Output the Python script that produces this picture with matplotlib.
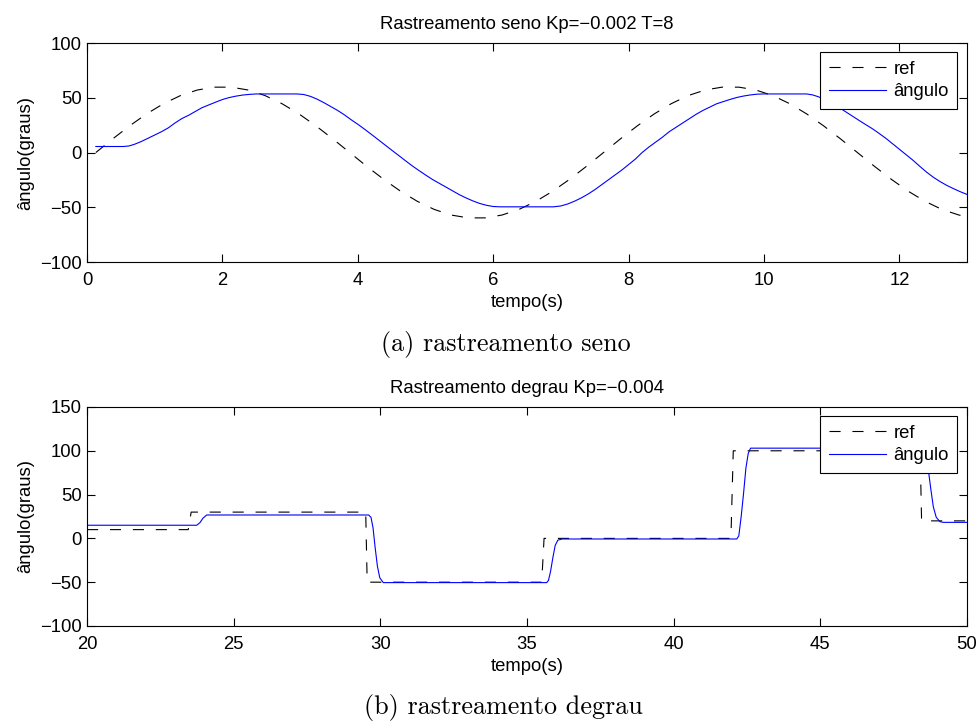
import matplotlib as mpl
mpl.use("Agg")
import matplotlib.pyplot as plt

# ---------------------------------------------------------------------------
# dados
# ---------------------------------------------------------------------------
# (a) rastreamento seno
seno_t_ref = [0.13, 0.38, 0.63, 0.88, 1.13, 1.38, 1.63, 1.88, 2.13, 2.38,
              2.63, 2.88, 3.13, 3.38, 3.63, 3.88, 4.13, 4.38, 4.63, 4.88,
              5.13, 5.38, 5.63, 5.88, 6.13, 6.38, 6.63, 6.88, 7.13, 7.38,
              7.63, 7.88, 8.13, 8.38, 8.63, 8.88, 9.13, 9.38, 9.63, 9.88,
              10.13, 10.38, 10.63, 10.88, 11.13, 11.38, 11.63, 11.88, 12.13,
              12.38, 12.63, 12.88, 13.0]
seno_ref = [0.0, 12.5, 24.4, 35.3, 44.6, 52.0, 57.1, 59.7, 59.7, 57.1,
            52.0, 44.6, 35.3, 24.4, 12.5, 0.0, -12.5, -24.4, -35.3, -44.6,
            -52.0, -57.1, -59.7, -59.7, -57.1, -52.0, -44.6, -35.3, -24.4, -12.5,
            0.0, 12.5, 24.4, 35.3, 44.6, 52.0, 57.1, 59.7, 59.7, 57.1,
            52.0, 44.6, 35.3, 24.4, 12.5, 0.0, -12.5, -24.4, -35.3,
            -44.6, -52.0, -57.1, -58.6]

seno_t_ang = [0.13, 0.54, 0.62, 0.7, 0.8, 0.9, 1.0, 1.1, 1.2, 1.3,
              1.4, 1.5, 1.6, 1.7, 1.8, 1.9, 2.0, 2.1, 2.2, 2.3,
              2.4, 2.5, 3.1, 3.2, 3.3, 3.4, 3.5, 3.6, 3.7, 3.8,
              3.9, 4.0, 4.1, 4.2, 4.3, 4.4, 4.5, 4.6, 4.7, 4.8,
              4.9, 5.0, 5.1, 5.2, 5.3, 5.4, 5.5, 5.6, 5.7, 5.8,
              5.9, 6.0, 6.1, 6.89, 7.0, 7.1, 7.2, 7.3, 7.4, 7.5,
              7.6, 7.7, 7.8, 7.9, 8.0, 8.1, 8.2, 8.3, 8.4, 8.5,
              8.6, 8.7, 8.8, 8.9, 9.0, 9.1, 9.2, 9.3, 9.4, 9.5,
              9.6, 9.7, 9.8, 9.9, 10.0, 10.63, 10.72, 10.8, 10.9, 11.0,
              11.1, 11.2, 11.3, 11.4, 11.5, 11.6, 11.7, 11.8, 11.9, 12.0,
              12.1, 12.2, 12.3, 12.4, 12.5, 12.6, 12.7, 12.8, 12.9, 13.0]
seno_ang = [5.5, 5.5, 6.0, 7.5, 10.0, 13.0, 16.0, 19.0, 22.5, 27.0,
            31.0, 34.0, 37.5, 41.0, 43.5, 46.0, 48.4, 50.2, 51.5, 52.5,
            53.1, 53.5, 53.5, 53.0, 51.3, 48.7, 45.5, 42.0, 38.5, 34.5,
            30.0, 25.8, 21.3, 16.6, 11.8, 7.0, 2.2, -2.5, -7.3, -12.0,
            -16.3, -20.5, -24.5, -28.0, -31.5, -35.0, -38.5, -41.5, -44.2, -46.5,
            -48.2, -49.3, -49.6, -49.6, -48.8, -47.0, -44.5, -41.5, -38.0, -34.0,
            -29.5, -25.0, -20.5, -16.0, -11.0, -6.0, 0.0, 5.0, 9.5, 14.0,
            19.0, 23.0, 27.0, 31.0, 35.0, 38.5, 41.5, 44.5, 46.5, 48.5,
            50.3, 51.6, 52.6, 53.3, 53.5, 53.5, 52.6, 51.0, 48.5, 45.2,
            41.5, 37.5, 33.5, 29.5, 25.6, 21.8, 17.5, 13.0, 8.0, 3.0,
            -2.0, -7.0, -12.5, -17.8, -22.5, -26.5, -30.0, -33.0, -35.8, -38.3]

# (b) rastreamento degrau
degrau_t_ref = [20.0, 23.45, 23.55, 29.5, 29.55, 35.5, 35.58, 41.95, 42.03,
                48.4, 48.45, 50.0]
degrau_ref = [10, 10, 30, 30, -50, -50, 0, 0, 100, 100, 20, 20]

degrau_t_ang = [20.0, 23.74, 23.85, 23.95, 24.08, 29.6, 29.68, 29.75, 29.82,
                29.9, 29.98, 30.1, 35.67, 35.73, 35.8, 35.88, 35.96, 36.05,
                36.2, 42.15, 42.22, 42.3, 42.38, 42.46, 42.54, 42.62, 48.55,
                48.6, 48.68, 48.77, 48.85, 48.95, 49.08, 49.2, 50.0]
degrau_ang = [15.0, 15.0, 18.0, 23.0, 26.7, 26.7, 24.0, 12.0, -10.0,
              -32.0, -45.0, -50.5, -50.5, -48.0, -38.0, -22.0, -8.0, -2.0,
              -0.7, -0.7, 3.0, 25.0, 51.0, 80.0, 97.0, 103.0, 103.0,
              97.0, 78.0, 55.0, 36.0, 24.0, 19.0, 18.3, 18.3]

SENO_XTICKS = [0, 2, 4, 6, 8, 10, 12]
SENO_YTICKS = [-100, -50, 0, 50, 100]
DEGRAU_XTICKS = [20, 25, 30, 35, 40, 45, 50]
DEGRAU_YTICKS = [-100, -50, 0, 50, 100, 150]

FONT = ["Liberation Sans", "DejaVu Sans"]
FS = 13.3


def setup_style():
    mpl.rcParams.update({
        "font.family": FONT,
        "font.size": FS,
        "lines.scale_dashes": False,
        "axes.linewidth": 0.8,
        "xtick.direction": "in",
        "ytick.direction": "in",
        "xtick.top": True,
        "ytick.right": True,
        "xtick.major.size": 6,
        "ytick.major.size": 6,
        "xtick.major.width": 0.8,
        "ytick.major.width": 0.8,
        "xtick.major.pad": 7,
        "ytick.major.pad": 4,
    })


def draw_panel(ax, t_ref, ref, t_ang, ang, title, xlim, ylim, xticks, yticks):
    ax.plot(t_ref, ref, color="black", lw=0.8, dashes=(8, 8.5), label="ref")
    ax.plot(t_ang, ang, color=(0, 0, 1), lw=0.8, label="ângulo")
    ax.set_xlim(*xlim)
    ax.set_ylim(*ylim)
    ax.set_xticks(xticks)
    ax.set_yticks(yticks)
    ax.set_title(title, fontsize=FS, pad=10)
    ax.set_xlabel("tempo(s)", labelpad=4)
    ax.set_ylabel("ângulo(graus)", labelpad=4)
    leg = ax.legend(loc="upper right", bbox_to_anchor=(0.9886, 0.957), borderaxespad=0,
                    fancybox=False, framealpha=1, edgecolor="black", handlelength=3.1,
                    handletextpad=0.4, borderpad=0.45, labelspacing=0.3, fontsize=FS)
    leg.get_frame().set_linewidth(0.8)


def make_figure():
    setup_style()
    fig = plt.figure(figsize=(9.79, 7.22), dpi=100)
    ax1 = fig.add_axes([0.0889, 0.6371, 0.8989, 0.3033])
    ax2 = fig.add_axes([0.0889, 0.1330, 0.8989, 0.3033])

    draw_panel(ax1, seno_t_ref, seno_ref, seno_t_ang, seno_ang,
               "Rastreamento seno Kp=−0.002 T=8", (0, 13), (-100, 100),
               SENO_XTICKS, SENO_YTICKS)
    draw_panel(ax2, degrau_t_ref, degrau_ref, degrau_t_ang, degrau_ang,
               "Rastreamento degrau Kp=−0.004", (20, 50), (-100, 150),
               DEGRAU_XTICKS, DEGRAU_YTICKS)

    # legendas das subfiguras (estilo LaTeX)
    fig.text(506 / 979, 1 - 351 / 722, "(a) rastreamento seno", family="cmr10",
             fontsize=18.8, ha="center", va="baseline")
    fig.text(503 / 979, 1 - 714 / 722, "(b) rastreamento degrau", family="cmr10",
             fontsize=18.8, ha="center", va="baseline")

    fig.savefig("out.png", dpi=100)
    plt.close(fig)


if __name__ == "__main__":
    make_figure()
